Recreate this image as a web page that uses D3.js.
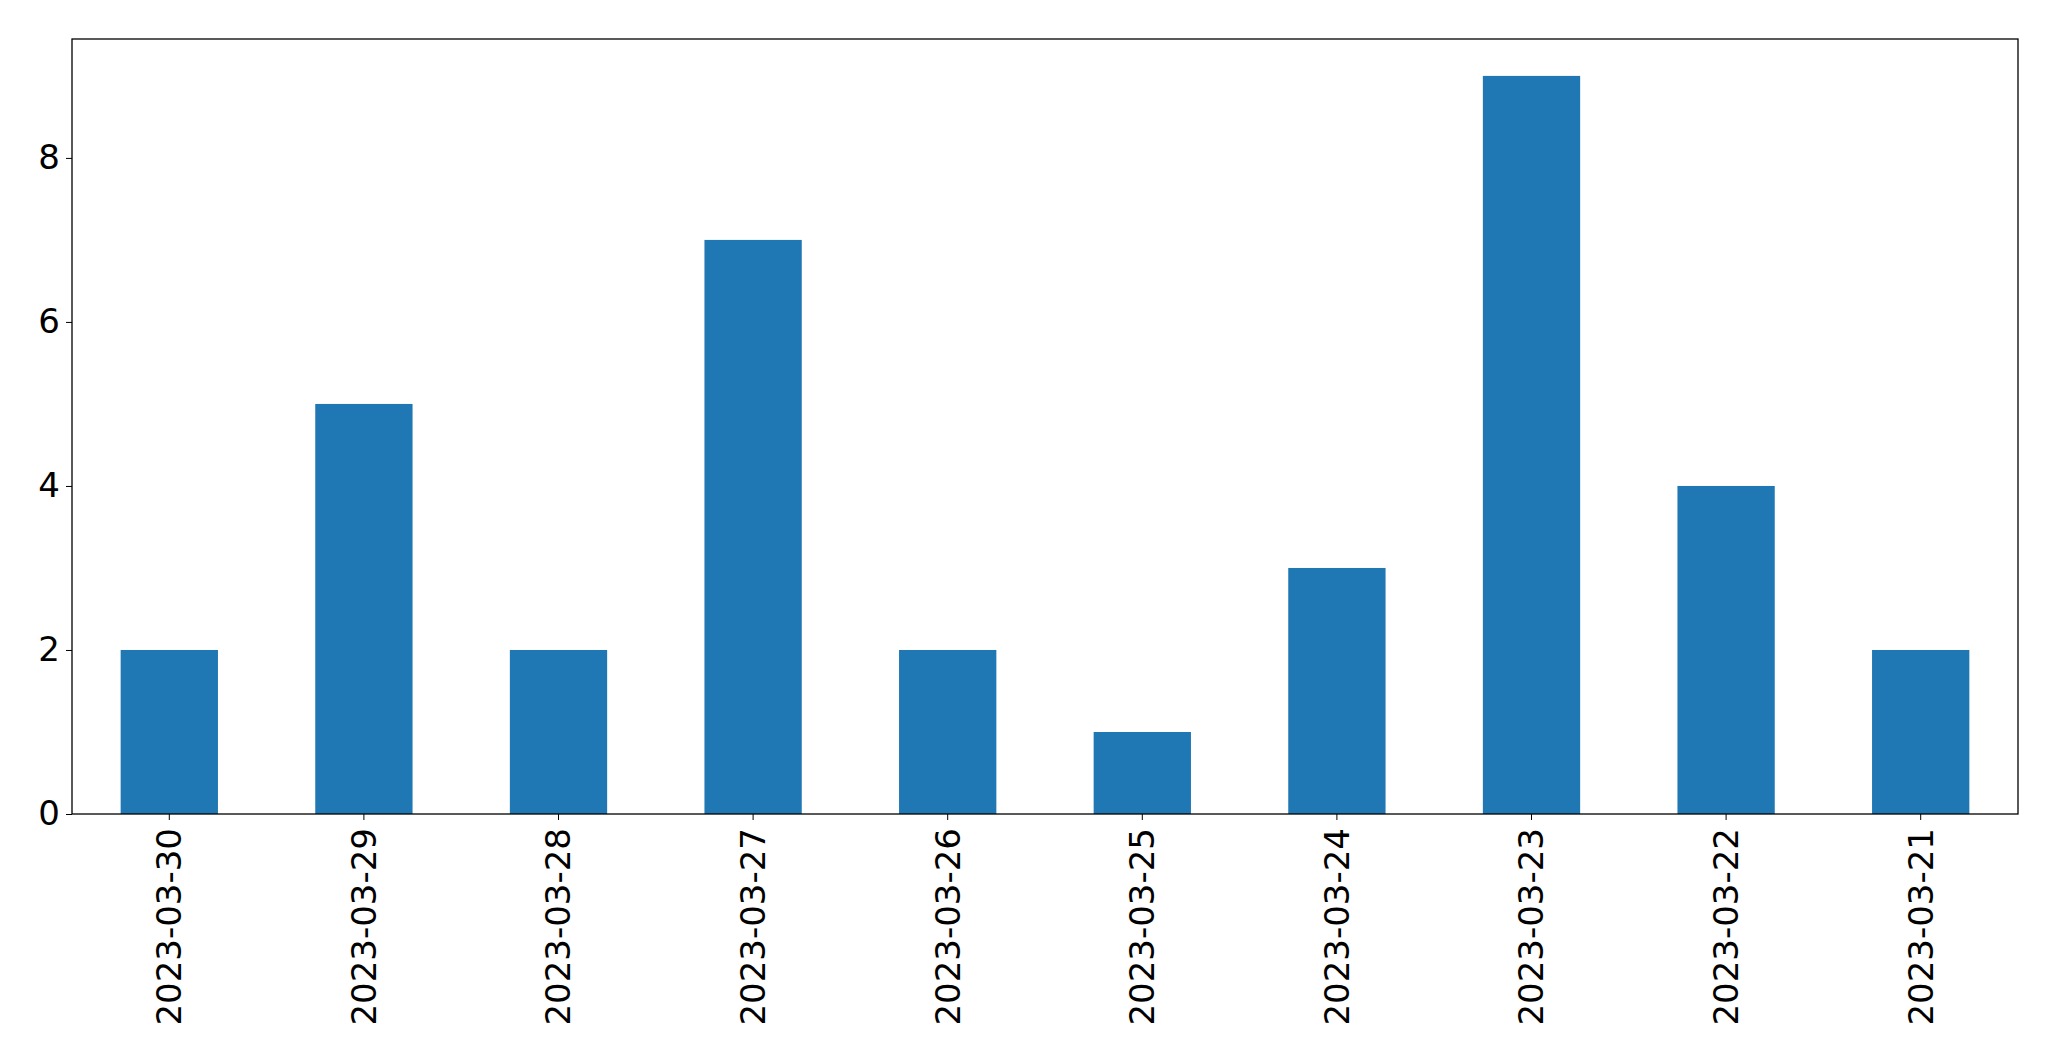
<!DOCTYPE html>
<meta charset="utf-8">
<style>
body { margin: 0; background: #fff; }
text { font-family: "DejaVu Sans", sans-serif; fill: #000; }
</style>
<svg width="2049" height="1061"></svg>
<script src="https://cdn.jsdelivr.net/npm/d3@7"></script>
<script>

var dates = ["2023-03-30", "2023-03-29", "2023-03-28", "2023-03-27", "2023-03-26",
             "2023-03-25", "2023-03-24", "2023-03-23", "2023-03-22", "2023-03-21"];
var counts = [2, 5, 2, 7, 2, 1, 3, 9, 4, 2];
var yTicks = [0, 2, 4, 6, 8];

var svg = d3.select("svg"),
    margin = {left: 72, right: 31, top: 39, bottom: 247},
    width = +svg.attr("width") - margin.left - margin.right,
    height = +svg.attr("height") - margin.top - margin.bottom;

var g = svg.append("g").attr("transform", "translate(" + margin.left + "," + margin.top + ")");

var x = d3.scaleBand().domain(dates).range([0, width]).paddingInner(0.5).paddingOuter(0.25);
var y = d3.scaleLinear().domain([0, 9 * 1.05]).range([height, 0]);

g.selectAll(".bar")
    .data(counts)
    .enter().append("rect")
    .attr("class", "bar")
    .attr("x", function(d, i) { return x(dates[i]); })
    .attr("y", function(d) { return y(d); })
    .attr("width", x.bandwidth())
    .attr("height", function(d) { return height - y(d); })
    .attr("fill", "#1f77b4");

// frame
g.append("rect")
    .attr("width", width).attr("height", height)
    .attr("fill", "none").attr("stroke", "#000").attr("stroke-width", 1.3);

var yAxis = g.append("g")
    .call(d3.axisLeft(y).tickValues(yTicks).tickSize(6).tickPadding(6));
yAxis.select(".domain").remove();
yAxis.selectAll("text").style("font-size", "34px");

var xAxis = g.append("g")
    .attr("transform", "translate(0," + height + ")")
    .call(d3.axisBottom(x).tickSize(6));
xAxis.select(".domain").remove();
xAxis.selectAll("text")
    .style("font-size", "34px")
    .attr("text-anchor", "end")
    .attr("dy", "0.35em")
    .attr("transform", "translate(0,14) rotate(-90)")
    .attr("x", 0).attr("y", 0);

</script>
